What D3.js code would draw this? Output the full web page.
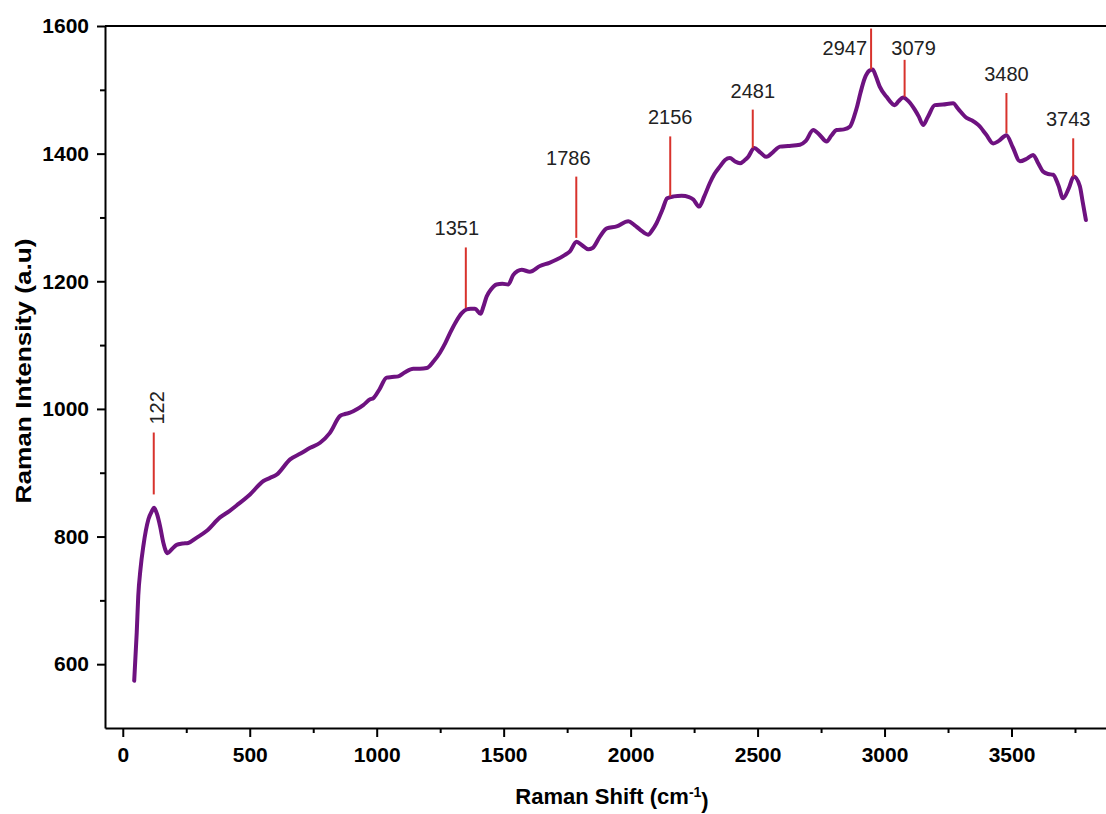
<!DOCTYPE html>
<html>
<head>
<meta charset="utf-8">
<script src="https://cdn.jsdelivr.net/npm/d3@7"></script>
<style>
    body { margin: 0; background: #fff; }
    #content { width: 1106px; height: 814px; overflow: hidden; }
    .axis text { font-family: "Liberation Sans", Arial, sans-serif; font-weight: bold; font-size: 21px; fill: #000; }
    .axis path, .axis line { stroke: #000; stroke-width: 2px; }
</style>
</head>
<body>
<div id="content"></div>
<script>
// Raman spectrum
const shift = [45, 55, 61, 70, 81, 101, 115, 123, 135, 147, 160, 176, 195, 212, 235, 258, 290, 331, 383, 420,
    449, 501, 554, 580, 606, 659, 700, 738, 777, 815, 856, 875, 895, 920, 947, 974, 987, 1010, 1039, 1060,
    1085, 1110, 1144, 1170, 1197, 1225, 1249, 1270, 1289, 1310, 1335, 1354, 1370, 1387, 1409, 1420, 1433, 1450, 1472, 1495,
    1518, 1538, 1555, 1571, 1603, 1643, 1680, 1709, 1740, 1761, 1787, 1810, 1833, 1850, 1879, 1906, 1945, 1991, 2015, 2037,
    2069, 2085, 2102, 2125, 2144, 2170, 2201, 2230, 2247, 2270, 2290, 2312, 2330, 2352, 2372, 2391, 2410, 2431, 2450, 2463,
    2487, 2510, 2535, 2560, 2588, 2620, 2667, 2690, 2719, 2745, 2772, 2790, 2811, 2840, 2863, 2880, 2890, 2905, 2922, 2940,
    2953, 2965, 2981, 3008, 3040, 3055, 3073, 3095, 3119, 3135, 3152, 3170, 3198, 3230, 3270, 3290, 3323, 3345, 3369, 3400,
    3428, 3450, 3480, 3505, 3533, 3560, 3585, 3605, 3624, 3645, 3664, 3685, 3703, 3725, 3745, 3769, 3780, 3793];
const intensity = [574, 650, 707, 750, 785, 827, 840, 845, 835, 816, 790, 774, 781, 787, 789, 790, 798, 809, 830, 840,
    849, 866, 887, 892, 897, 921, 930, 939, 947, 962, 989, 992, 994, 999, 1006, 1015, 1017, 1030, 1049, 1050,
    1051, 1057, 1063, 1063, 1064, 1075, 1088, 1103, 1119, 1135, 1150, 1156, 1157, 1157, 1149, 1160, 1176, 1187, 1195, 1196,
    1195, 1210, 1216, 1218, 1215, 1224, 1229, 1234, 1241, 1247, 1262, 1256, 1250, 1252, 1270, 1283, 1286, 1294, 1288, 1281,
    1273, 1280, 1291, 1312, 1330, 1333, 1334, 1332, 1328, 1317, 1333, 1354, 1368, 1380, 1390, 1393, 1388, 1385, 1390, 1395,
    1409, 1402, 1395, 1402, 1411, 1412, 1414, 1420, 1437, 1429, 1419, 1428, 1437, 1438, 1442, 1458, 1471, 1495, 1518, 1530,
    1532, 1522, 1505, 1489, 1476, 1482, 1488, 1482, 1469, 1458, 1445, 1457, 1476, 1477, 1479, 1470, 1456, 1452, 1445, 1430,
    1416, 1420, 1429, 1410, 1388, 1392, 1398, 1385, 1372, 1368, 1367, 1350, 1330, 1345, 1364, 1349, 1325, 1296];

// labelled peaks, and where each red marker starts and stops (intensity units)
const peaks = [122, 1351, 1786, 2156, 2481, 2947, 3079, 3480, 3743];
const markerTop = [963, 1253, 1364, 1427, 1469, 1596, 1547, 1495, 1424];
const markerBottom = [866, 1158, 1268, 1333, 1409, 1532, 1489, 1432, 1364];

const xTicks = [0, 500, 1000, 1500, 2000, 2500, 3000, 3500];
const yTicks = [600, 800, 1000, 1200, 1400, 1600];

function drawChart() {
    const W = 1106, H = 814;
    const left = 105, top = 26, bottom = 728, right = 1108;
    const font = "'Liberation Sans', Arial, sans-serif";

    const svg = d3.select("#content")
        .append("svg")
        .attr("width", W)
        .attr("height", H);

    const x = d3.scaleLinear().domain([-70, 3880]).range([left, right]);
    const y = d3.scaleLinear().domain([500, 1600]).range([bottom, top]);

    // minor ticks first, majors drawn on top
    svg.append("g")
        .attr("class", "axis")
        .attr("transform", "translate(0," + bottom + ")")
        .call(d3.axisBottom(x).tickValues(d3.range(250, 3880, 500)).tickSize(5).tickFormat(""))
        .select(".domain").remove();
    svg.append("g")
        .attr("class", "axis")
        .attr("transform", "translate(" + left + ",0)")
        .call(d3.axisLeft(y).tickValues(d3.range(700, 1600, 200)).tickSize(5).tickFormat(""))
        .select(".domain").remove();

    svg.append("g")
        .attr("class", "axis")
        .attr("transform", "translate(0," + bottom + ")")
        .call(d3.axisBottom(x).tickValues(xTicks).tickSize(9).tickSizeOuter(0).tickPadding(10).tickFormat(d3.format("d")));
    svg.append("g")
        .attr("class", "axis")
        .attr("transform", "translate(" + left + ",0)")
        .call(d3.axisLeft(y).tickValues(yTicks).tickSize(8).tickSizeOuter(0).tickPadding(8).tickFormat(d3.format("d")));

    // frame line along the top
    svg.append("line")
        .attr("x1", left).attr("x2", right)
        .attr("y1", top).attr("y2", top)
        .style("stroke", "#000")
        .style("stroke-width", 2);

    const data = shift.map((s, i) => ({ s: s, v: intensity[i] }));
    svg.append("path")
        .datum(data)
        .attr("d", d3.line()
            .x(d => x(d.s))
            .y(d => y(d.v))
            .curve(d3.curveMonotoneX))
        .style("fill", "none")
        .style("stroke", "#6e1280")
        .style("stroke-width", 4)
        .style("stroke-linejoin", "round")
        .style("stroke-linecap", "round");

    // red peak markers
    svg.append("g")
        .selectAll("line")
        .data(peaks)
        .enter()
        .append("line")
        .attr("x1", d => x(d)).attr("x2", d => x(d))
        .attr("y1", (d, i) => y(markerTop[i]))
        .attr("y2", (d, i) => y(markerBottom[i]))
        .style("stroke", "#d8322c")
        .style("stroke-width", 2);

    // label nudges in pixels, so the crowded ones don't overlap
    const nudge = { 1351: -9, 1786: -8, 2947: -4, 3079: 9, 3743: -5 };
    svg.append("g")
        .selectAll("text")
        .data(peaks)
        .enter()
        .append("text")
        .attr("transform", function (d, i) {
            if (d === 122) return "translate(" + (x(d) + 3) + "," + (y(markerTop[i]) - 8) + ")rotate(-90)";
            if (d === 2947 || d === 3079) return "translate(" + (x(d) + nudge[d]) + ",55)";
            return "translate(" + (x(d) + (nudge[d] || 0)) + "," + (y(markerTop[i]) - 12) + ")";
        })
        .attr("dy", d => d === 122 ? ".35em" : null)
        .attr("text-anchor", d => d === 122 ? "start" : (d === 2947 ? "end" : "middle"))
        .style("font-family", font)
        .style("font-size", "20px")
        .style("fill", "#222")
        .text(d => d);

    // axis titles
    svg.append("text")
        .attr("transform", "translate(31,371)rotate(-90)")
        .attr("text-anchor", "middle")
        .attr("textLength", 265)
        .attr("lengthAdjust", "spacingAndGlyphs")
        .style("font-family", font)
        .style("font-weight", "bold")
        .style("font-size", "22px")
        .text("Raman Intensity (a.u)");

    const xt = svg.append("text")
        .attr("x", 612)
        .attr("y", 804)
        .attr("text-anchor", "middle")
        .style("font-family", font)
        .style("font-weight", "bold")
        .style("font-size", "22px");
    xt.append("tspan").text("Raman Shift (cm");
    xt.append("tspan").attr("dy", "-0.5em").style("font-size", "14px").text("-1");
    xt.append("tspan").attr("dy", "0.5em").text(")");
}

drawChart();
</script>
</body>
</html>
